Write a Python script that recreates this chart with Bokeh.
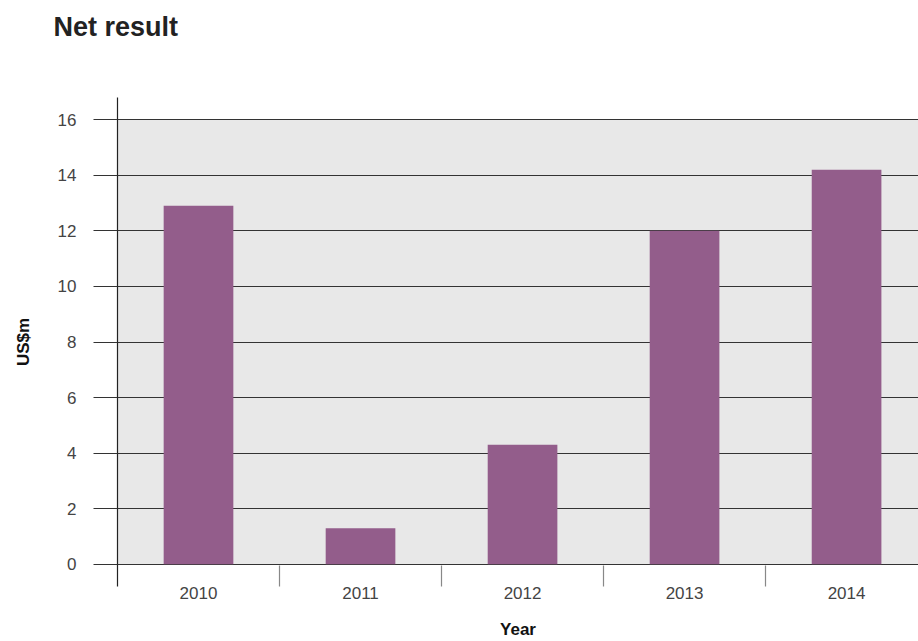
from bokeh.plotting import figure
from bokeh.models import Range1d, FixedTicker, BoxAnnotation, Title
from bokeh.embed import file_html
from bokeh.resources import INLINE

years = ["2010", "2011", "2012", "2013", "2014"]
net_result = [12.9, 1.3, 4.3, 12.0, 14.2]
y_ticks = [0, 2, 4, 6, 8, 10, 12, 14, 16]

x_pos = [i + 0.5 for i in range(len(years))]
separators = list(range(1, len(years)))

FONT = "Liberation Sans"
W, H = 918, 641

p = figure(width=W, height=H, output_backend="svg", toolbar_location=None,
           x_range=Range1d(0, 4.944), y_range=Range1d(-0.8, 16.8),
           min_border_left=117, min_border_right=0, min_border_top=97,
           min_border_bottom=55, title="Net result")
p.outline_line_color = None
p.background_fill_color = "white"
p.border_fill_color = "white"

p.title.text_font = FONT
p.title.text_font_size = "27px"
p.title.text_font_style = "bold"
p.title.text_color = "#222222"
p.title.offset = -64
p.title.standoff = 19

# blank spacer between the title and the plot area
p.add_layout(Title(text=" ", text_font_size="17px", standoff=25), "above")

p.add_layout(BoxAnnotation(bottom=y_ticks[0], top=y_ticks[-1], fill_color="#e8e8e8",
                           fill_alpha=1, line_color=None, level="image"))

p.vbar(x=x_pos, top=net_result, width=0.43, fill_color="#935d8b", line_color=None)

# y axis
p.yaxis.ticker = FixedTicker(ticks=y_ticks)
p.yaxis.minor_tick_line_color = None
p.yaxis.major_tick_in = 0
p.yaxis.major_tick_out = 24
p.yaxis.major_tick_line_color = "#333333"
p.yaxis.axis_line_color = "#222222"
p.yaxis.axis_line_width = 1.2
p.yaxis.major_label_text_font = FONT
p.yaxis.major_label_text_font_size = "17px"
p.yaxis.major_label_text_color = "#444444"
p.yaxis.major_label_standoff = 17
p.yaxis.axis_label = "US$m"
p.yaxis.axis_label_text_font = FONT
p.yaxis.axis_label_text_font_size = "17px"
p.yaxis.axis_label_text_font_style = "bold"
p.yaxis.axis_label_text_color = "#111111"
p.yaxis.axis_label_standoff = 22

p.ygrid.grid_line_color = "#333333"
p.ygrid.grid_line_width = 1
p.xgrid.visible = False

# x axis
p.xaxis.ticker = FixedTicker(ticks=x_pos, minor_ticks=separators)
p.xaxis.major_label_overrides = {x: y for x, y in zip(x_pos, years)}
p.xaxis.major_tick_line_color = None
p.xaxis.major_tick_in = 0
p.xaxis.major_tick_out = 0
p.xaxis.minor_tick_in = 21
p.xaxis.minor_tick_out = 0
p.xaxis.minor_tick_line_color = "#888888"
p.xaxis.minor_tick_line_width = 1.2
p.xaxis.axis_line_color = None
p.xaxis.major_label_text_font = FONT
p.xaxis.major_label_text_font_size = "17px"
p.xaxis.major_label_text_color = "#444444"
p.xaxis.major_label_standoff = 0
p.xaxis.axis_label = "Year"
p.xaxis.axis_label_text_font = FONT
p.xaxis.axis_label_text_font_size = "17px"
p.xaxis.axis_label_text_font_style = "bold"
p.xaxis.axis_label_text_color = "#111111"
p.xaxis.axis_label_standoff = 18

open("out.html", "w").write(file_html(p, INLINE))
